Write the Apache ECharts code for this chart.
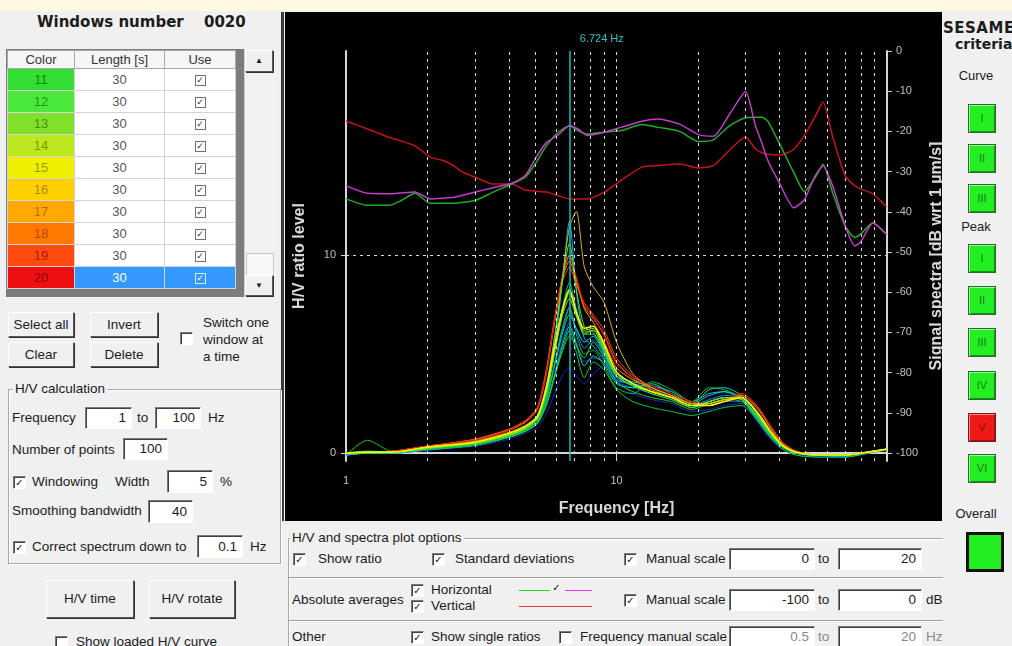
<!DOCTYPE html>
<html>
<head>
<meta charset="utf-8">
<script src="https://cdn.jsdelivr.net/npm/echarts@6/dist/echarts.min.js"></script>
<style>
  body { margin:0; width:1012px; height:646px; overflow:hidden; background:#f0f0f0; position:relative;
         font-family:"Liberation Sans", Arial, sans-serif; font-size:13.5px; color:#1c1c1c; }
  .t { position:absolute; line-height:16px; white-space:nowrap; }
  .btn { position:absolute; box-sizing:border-box; background:#f0f0f0; border:1px solid;
         border-color:#fff #5a5a5a #5a5a5a #fff; box-shadow:1px 1px 0 #303030; text-align:center; white-space:nowrap; }
  .inp { position:absolute; box-sizing:border-box; background:#fff; border:1px solid;
         border-color:#7a7a7a #fff #fff #7a7a7a; box-shadow:inset 1px 1px 0 #404040;
         text-align:right; padding-right:5px; white-space:nowrap; }
  .cb { position:absolute; box-sizing:border-box; width:13px; height:13px; background:#fff; border:1px solid;
        border-color:#7a7a7a #fff #fff #7a7a7a; box-shadow:inset 1px 1px 0 #404040;
        font-family:"DejaVu Sans"; font-size:10px; font-weight:bold; line-height:11px; text-align:center; color:#111; }
  .grp { position:absolute; border:1px solid #a8a8a8; box-shadow:1px 1px 0 #fff, inset 1px 1px 0 #fff; }
  .gt { position:absolute; background:#f0f0f0; padding:0 2px; line-height:16px; white-space:nowrap; }
  .sep { position:absolute; height:1px; background:#a0a0a0; border-bottom:1px solid #fff; }
  table.wt { position:absolute; left:7px; top:50px; width:229px; border-collapse:collapse; table-layout:fixed; font-size:13px; }
  .wt th { height:17px; padding:0; font-weight:normal; background:#f6f6f6; border:1px solid #a8a8a8; color:#333; }
  .wt td { height:21px; padding:0; text-align:center; border:1px solid #d4d4d4; background:#fff; color:#555; }
  .ucb { display:inline-block; box-sizing:border-box; width:11px; height:11px; border:1px solid #707070;
         font-family:"DejaVu Sans"; font-size:9px; line-height:9px; color:#333; vertical-align:middle; }
  .crit { position:absolute; left:968px; width:28px; height:29px; box-sizing:border-box; background:#22ee22;
          border:1px solid #2a6a2a; box-shadow:inset 1px 1px 0 #9f9, inset -1px -1px 0 #189018;
          text-align:center; line-height:27px; font-size:11px; color:#178017; }
  .lbl { position:absolute; width:72px; left:940px; text-align:center; line-height:16px; font-size:13px; }
</style>
</head>
<body>
<div style="position:absolute;left:0;top:0;width:1012px;height:11px;background:#fdf9e2"></div>

<!-- window list -->
<div class="t" style="left:37px;top:14px;font-family:'DejaVu Sans';font-weight:bold;font-size:15px">Windows number</div>
<div class="t" style="left:204px;top:14px;font-family:'DejaVu Sans';font-weight:bold;font-size:15px">0020</div>
<div style="position:absolute;left:6px;top:49px;width:238px;height:248px;background:#7c7c7c"></div>
<table class="wt" id="wtable">
  <tr><th style="width:66px">Color</th><th style="width:89px">Length [s]</th><th>Use</th></tr>
</table>
<div style="position:absolute;left:244px;top:49px;width:30px;height:248px;background:#f2f2f2;border-left:1px solid #d0d0d0"></div>
<div class="btn" style="left:245px;top:50px;width:28px;height:22px;font-size:8px;line-height:20px">▲</div>
<div style="position:absolute;left:246px;top:253px;width:26px;height:22px;border:1px solid #c8c8c8;background:#f7f7f7"></div>
<div class="btn" style="left:245px;top:275px;width:28px;height:21px;font-size:8px;line-height:19px">▼</div>
<div style="position:absolute;left:281px;top:12px;width:3px;height:509px;background:#3c3c3c"></div>

<div class="btn" style="left:8px;top:312px;width:66px;height:25px;line-height:23px">Select all</div>
<div class="btn" style="left:90px;top:312px;width:68px;height:25px;line-height:23px">Invert</div>
<div class="btn" style="left:8px;top:342px;width:66px;height:25px;line-height:23px">Clear</div>
<div class="btn" style="left:90px;top:342px;width:68px;height:25px;line-height:23px">Delete</div>
<div class="cb" style="left:180px;top:332px"></div>
<div class="t" style="left:203px;top:315px">Switch one</div>
<div class="t" style="left:203px;top:332px">window at</div>
<div class="t" style="left:203px;top:349px">a time</div>

<div class="grp" style="left:8px;top:389px;width:271px;height:173px"></div>
<div class="gt" style="left:13px;top:381px">H/V calculation</div>
<div class="t" style="left:12px;top:410px">Frequency</div>
<div class="inp" style="left:85px;top:407px;width:47px;height:22px;line-height:20px">1</div>
<div class="t" style="left:137px;top:410px">to</div>
<div class="inp" style="left:155px;top:407px;width:46px;height:22px;line-height:20px">100</div>
<div class="t" style="left:208px;top:410px">Hz</div>
<div class="t" style="left:12px;top:442px">Number of points</div>
<div class="inp" style="left:123px;top:438px;width:45px;height:22px;line-height:20px">100</div>
<div class="cb" style="left:13px;top:476px">✓</div>
<div class="t" style="left:32px;top:474px">Windowing</div>
<div class="t" style="left:115px;top:474px">Width</div>
<div class="inp" style="left:167px;top:470px;width:46px;height:23px;line-height:21px">5</div>
<div class="t" style="left:220px;top:474px">%</div>
<div class="t" style="left:12px;top:503px">Smoothing bandwidth</div>
<div class="inp" style="left:148px;top:500px;width:45px;height:23px;line-height:21px">40</div>
<div class="cb" style="left:13px;top:541px">✓</div>
<div class="t" style="left:32px;top:539px">Correct spectrum down to</div>
<div class="inp" style="left:197px;top:535px;width:46px;height:23px;line-height:21px">0.1</div>
<div class="t" style="left:250px;top:539px">Hz</div>

<div class="btn" style="left:46px;top:580px;width:88px;height:38px;line-height:36px">H/V time</div>
<div class="btn" style="left:149px;top:580px;width:86px;height:38px;line-height:36px">H/V rotate</div>
<div class="cb" style="left:55px;top:636px"></div>
<div class="t" style="left:76px;top:634px">Show loaded H/V curve</div>

<!-- plot options -->
<div class="grp" style="left:288px;top:538px;width:700px;height:130px"></div>
<div class="gt" style="left:290px;top:530px">H/V and spectra plot options</div>
<div class="cb" style="left:293px;top:553px">✓</div>
<div class="t" style="left:318px;top:551px">Show ratio</div>
<div class="cb" style="left:432px;top:553px">✓</div>
<div class="t" style="left:455px;top:551px">Standard deviations</div>
<div class="cb" style="left:624px;top:553px">✓</div>
<div class="t" style="left:646px;top:551px">Manual scale</div>
<div class="inp" style="left:729px;top:548px;width:86px;height:22px;line-height:20px">0</div>
<div class="t" style="left:818px;top:551px">to</div>
<div class="inp" style="left:838px;top:548px;width:84px;height:22px;line-height:20px">20</div>
<div class="sep" style="left:289px;top:577px;width:660px"></div>

<div class="t" style="left:292px;top:592px">Absolute averages</div>
<div class="cb" style="left:411px;top:584px">✓</div>
<div class="t" style="left:431px;top:582px">Horizontal</div>
<div class="cb" style="left:411px;top:600px">✓</div>
<div class="t" style="left:431px;top:598px">Vertical</div>
<div style="position:absolute;left:519px;top:590px;width:31px;height:1px;background:#22dd22"></div>
<div class="cb" style="left:550px;top:582px;border:none;box-shadow:none;background:transparent">✓</div>
<div style="position:absolute;left:565px;top:590px;width:27px;height:1px;background:#ee33ee"></div>
<div style="position:absolute;left:519px;top:606px;width:73px;height:1px;background:#ee3333"></div>
<div class="cb" style="left:624px;top:594px">✓</div>
<div class="t" style="left:646px;top:592px">Manual scale</div>
<div class="inp" style="left:729px;top:589px;width:86px;height:22px;line-height:20px">-100</div>
<div class="t" style="left:818px;top:592px">to</div>
<div class="inp" style="left:838px;top:589px;width:84px;height:22px;line-height:20px">0</div>
<div class="t" style="left:926px;top:592px">dB</div>
<div class="sep" style="left:289px;top:620px;width:660px"></div>

<div class="t" style="left:292px;top:629px">Other</div>
<div class="cb" style="left:411px;top:631px">✓</div>
<div class="t" style="left:431px;top:629px">Show single ratios</div>
<div class="cb" style="left:559px;top:631px"></div>
<div class="t" style="left:580px;top:629px">Frequency manual scale</div>
<div class="inp" style="left:729px;top:626px;width:86px;height:22px;line-height:20px;color:#8a8a8a">0.5</div>
<div class="t" style="left:818px;top:629px;color:#8a8a8a">to</div>
<div class="inp" style="left:838px;top:626px;width:84px;height:22px;line-height:20px;color:#8a8a8a">20</div>
<div class="t" style="left:926px;top:629px;color:#8a8a8a">Hz</div>

<!-- SESAME criteria -->
<div style="position:absolute;left:943px;top:12px;width:69px;height:634px;background:#f0f0f0"></div>
<div class="t" style="left:943px;top:20px;font-family:'DejaVu Sans';font-weight:bold;font-size:15px;letter-spacing:0.5px">SESAME</div>
<div class="t" style="left:955px;top:36px;font-family:'DejaVu Sans';font-weight:bold;font-size:14px">criteria</div>
<div class="lbl" style="top:68px">Curve</div>
<div class="crit" style="top:104px">I</div>
<div class="crit" style="top:144px">II</div>
<div class="crit" style="top:184px">III</div>
<div class="lbl" style="top:219px">Peak</div>
<div class="crit" style="top:244px">I</div>
<div class="crit" style="top:286px">II</div>
<div class="crit" style="top:328px">III</div>
<div class="crit" style="top:371px">IV</div>
<div class="crit" style="top:413px;background:#ee1a1a;border-color:#7a1a1a;box-shadow:inset 1px 1px 0 #f88, inset -1px -1px 0 #a01010;color:#8a0c0c">V</div>
<div class="crit" style="top:454px">VI</div>
<div class="lbl" style="top:506px">Overall</div>
<div style="position:absolute;left:966px;top:532px;width:38px;height:40px;box-sizing:border-box;background:#22ee22;border:3px solid #111"></div>

<div id="chart" style="position:absolute;left:285px;top:12px;width:657px;height:509px;background:#000"></div>

<script>
// window list
const windowIds = [11, 12, 13, 14, 15, 16, 17, 18, 19, 20];
const windowLengths = [30, 30, 30, 30, 30, 30, 30, 30, 30, 30];

// H/V ratio of each window, sampled at hvFreq (Hz)
const hvFreq = [1, 1.2, 1.5, 2, 3, 4, 4.6, 5.1, 5.5, 5.9, 6.3, 6.7, 7.1, 7.6, 8.2, 9, 10, 11.5, 13.5, 16, 19, 22, 25, 29, 33, 37, 41, 46, 55, 70, 85, 100];
const hv01 = [-0.1, 0.0, 0.0, 0.15, 0.35, 0.7, 1.0, 1.3, 2.0, 3.0, 3.9, 4.3, 3.9, 3.5, 4.0, 4.4, 3.7, 3.0, 2.7, 2.5, 2.1, 2.2, 2.4, 2.5, 1.6, 0.7, 0.2, -0.1, -0.2, -0.2, 0.0, 0.15];
const hv02 = [-0.1, 0.0, 0.05, 0.2, 0.4, 0.8, 1.1, 1.5, 2.5, 4.0, 5.6, 6.6, 5.6, 4.6, 4.8, 4.6, 3.6, 3.3, 3.0, 2.7, 2.3, 2.5, 2.6, 2.6, 1.7, 0.8, 0.3, 0.0, -0.2, -0.2, 0.0, 0.2];
const hv03 = [0.0, 0.05, 0.05, 0.2, 0.45, 0.85, 1.2, 1.6, 2.7, 4.5, 6.3, 7.4, 6.2, 5.3, 5.7, 4.9, 3.8, 3.4, 3.2, 2.8, 2.4, 2.7, 2.9, 2.8, 1.8, 0.9, 0.3, 0.0, -0.1, -0.1, 0.05, 0.2];
const hv04 = [-0.1, 0.0, 0.0, 0.15, 0.4, 0.8, 1.1, 1.5, 2.8, 5.2, 8.6, 11.7, 8.2, 5.8, 5.4, 4.7, 3.7, 3.5, 3.3, 2.9, 2.5, 2.9, 3.1, 2.7, 1.7, 0.8, 0.3, 0.0, -0.1, -0.2, 0.0, 0.2];
const hv05 = [0.0, 0.0, 0.05, 0.25, 0.45, 0.85, 1.2, 1.6, 2.7, 4.4, 6.0, 7.0, 6.3, 5.6, 5.9, 5.0, 3.9, 3.6, 3.4, 3.1, 2.6, 3.0, 3.1, 2.8, 1.8, 0.9, 0.3, 0.0, -0.1, -0.1, 0.05, 0.2];
const hv06 = [-0.1, 0.0, 0.0, 0.2, 0.4, 0.8, 1.1, 1.5, 2.4, 3.9, 5.4, 6.4, 5.5, 4.4, 4.9, 4.5, 3.5, 3.3, 3.5, 3.0, 2.5, 3.2, 3.3, 2.9, 1.8, 0.9, 0.3, 0.0, -0.1, -0.1, 0.05, 0.2];
const hv07 = [0.0, 0.05, 0.05, 0.25, 0.5, 0.9, 1.25, 1.7, 3.0, 5.2, 7.3, 8.6, 7.3, 6.0, 6.0, 5.1, 3.9, 3.4, 3.1, 2.8, 2.3, 2.6, 2.8, 2.7, 1.9, 1.0, 0.35, 0.0, -0.1, -0.1, 0.05, 0.2];
const hv08 = [0.0, 0.1, 0.05, 0.2, 0.4, 0.8, 1.1, 1.5, 2.4, 3.8, 5.2, 6.2, 5.1, 3.8, 4.6, 4.2, 3.2, 2.6, 2.3, 2.1, 1.9, 2.1, 2.3, 2.4, 1.7, 0.8, 0.2, -0.1, -0.2, -0.2, 0.0, 0.15];
const hv09 = [-0.1, 0.65, 0.05, 0.2, 0.4, 0.85, 1.15, 1.6, 2.7, 4.5, 6.2, 7.3, 6.0, 5.0, 5.2, 4.4, 3.3, 3.0, 3.6, 3.2, 2.6, 3.3, 3.2, 2.8, 1.9, 0.9, 0.3, 0.0, -0.1, -0.1, 0.05, 0.2];
const hv10 = [0.0, 0.05, 0.05, 0.2, 0.45, 0.8, 1.1, 1.5, 2.5, 3.9, 5.1, 5.9, 5.4, 4.8, 5.6, 4.8, 3.6, 3.1, 2.8, 2.6, 2.2, 2.5, 2.7, 2.6, 1.8, 0.9, 0.3, 0.0, -0.1, -0.1, 0.05, 0.2];
const hv11 = [0.0, 0.0, 0.05, 0.25, 0.5, 0.9, 1.2, 1.7, 3.0, 5.0, 7.0, 8.1, 7.0, 6.0, 6.2, 5.2, 3.9, 3.4, 3.1, 2.8, 2.4, 2.6, 2.8, 2.7, 1.9, 1.0, 0.35, 0.0, -0.1, -0.1, 0.05, 0.2];
const hv12 = [0.0, 0.05, 0.05, 0.25, 0.5, 0.9, 1.25, 1.75, 3.2, 5.8, 8.6, 10.6, 8.3, 6.4, 6.1, 5.2, 3.9, 3.4, 3.0, 2.7, 2.3, 2.6, 2.8, 2.7, 1.9, 1.0, 0.35, 0.0, -0.1, -0.1, 0.05, 0.2];
const hv13 = [0.0, 0.05, 0.05, 0.25, 0.5, 0.9, 1.25, 1.75, 3.1, 5.1, 6.9, 7.8, 6.9, 6.1, 6.2, 5.3, 4.0, 3.5, 3.1, 2.8, 2.4, 2.6, 2.8, 2.8, 2.0, 1.0, 0.4, 0.05, -0.1, -0.1, 0.05, 0.2];
const hv14 = [0.0, 0.05, 0.05, 0.3, 0.55, 0.95, 1.3, 1.8, 3.2, 5.3, 7.2, 8.3, 7.2, 6.2, 6.3, 5.4, 4.1, 3.5, 3.1, 2.8, 2.4, 2.5, 2.7, 2.8, 2.0, 1.1, 0.4, 0.05, -0.1, -0.1, 0.05, 0.2];
const hv15 = [0.0, 0.05, 0.05, 0.3, 0.55, 1.0, 1.35, 1.85, 3.3, 5.4, 7.2, 8.2, 7.1, 6.3, 6.4, 5.5, 4.1, 3.5, 3.1, 2.8, 2.4, 2.4, 2.6, 2.8, 2.1, 1.1, 0.4, 0.05, -0.1, -0.1, 0.05, 0.2];
const hv16 = [0.0, 0.05, 0.05, 0.3, 0.6, 1.05, 1.4, 1.9, 3.4, 5.8, 8.8, 11.4, 12.2, 9.4, 8.4, 7.6, 5.6, 4.0, 3.3, 2.9, 2.5, 2.5, 2.7, 2.8, 2.1, 1.2, 0.45, 0.05, -0.1, -0.1, 0.05, 0.2];
const hv17 = [0.0, 0.05, 0.1, 0.35, 0.65, 1.15, 1.55, 2.2, 4.0, 6.6, 8.8, 10.0, 8.8, 7.3, 6.6, 5.6, 4.3, 3.7, 3.3, 2.9, 2.5, 2.4, 2.6, 2.9, 2.3, 1.3, 0.5, 0.1, -0.1, -0.1, 0.05, 0.2];
const hv18 = [0.0, 0.05, 0.1, 0.35, 0.7, 1.2, 1.6, 2.3, 4.2, 6.8, 8.8, 9.7, 8.6, 7.4, 6.8, 6.0, 4.6, 3.8, 3.2, 2.8, 2.5, 2.4, 2.6, 2.9, 2.3, 1.4, 0.55, 0.1, -0.1, -0.1, 0.05, 0.2];
const hv19 = [0.0, 0.05, 0.1, 0.35, 0.7, 1.2, 1.65, 2.3, 4.1, 6.6, 8.6, 9.4, 8.5, 7.6, 7.0, 6.2, 4.8, 3.9, 3.3, 2.9, 2.5, 2.4, 2.6, 3.0, 2.4, 1.4, 0.55, 0.1, -0.1, -0.1, 0.05, 0.2];
const hv20 = [0.0, 0.05, 0.1, 0.35, 0.65, 1.15, 1.6, 2.25, 4.0, 6.7, 8.9, 9.9, 8.9, 7.5, 6.9, 5.9, 4.5, 3.8, 3.4, 3.0, 2.6, 2.5, 2.7, 3.0, 2.4, 1.4, 0.5, 0.1, -0.1, -0.1, 0.05, 0.2];

// averaged amplitude spectra (dB), sampled at specFreq (Hz)
const specFreq = [1, 1.2, 1.45, 1.6, 1.8, 2.05, 2.3, 2.5, 2.65, 3, 3.5, 4.1, 4.6, 5.05, 5.5, 6.1, 6.7, 7.2, 7.8, 9, 10.4, 12.4, 14.3, 17.1, 20.1, 22.8, 26.3, 30, 32.6, 34.5, 36.3, 40, 45.2, 49.5, 54.2, 58, 63, 70, 76, 80, 88.6, 99.6];
const specHorizA = [-33.5, -35.4, -35.5, -35.3, -35.1, -36.8, -36.6, -36.4, -36.0, -35.1, -34.0, -32.9, -31.0, -26.4, -22.8, -20.8, -18.6, -19.4, -21.0, -20.2, -19.0, -17.5, -16.9, -18.2, -20.8, -21.2, -15.5, -10.1, -18.5, -23.0, -27.3, -32.8, -39.0, -37.0, -31.1, -28.6, -33.6, -43.5, -48.5, -47.5, -42.8, -45.6];
const specHorizB = [-36.8, -38.4, -38.4, -37.2, -35.4, -37.9, -37.9, -37.9, -37.7, -37.2, -35.1, -33.1, -31.4, -27.7, -23.6, -20.2, -18.6, -19.8, -20.7, -20.2, -19.8, -18.3, -19.0, -20.0, -22.5, -22.1, -18.5, -16.6, -16.5, -16.5, -17.5, -23.0, -30.2, -35.0, -31.5, -28.2, -35.3, -43.5, -46.4, -45.5, -42.8, -45.6];
const specVert = [-17.4, -19.4, -21.5, -22.4, -23.6, -26.4, -27.3, -28.5, -29.8, -31.4, -33.1, -33.1, -34.6, -34.9, -35.1, -36.0, -36.8, -36.8, -36.8, -35.1, -32.2, -28.9, -28.5, -28.1, -29.1, -28.5, -24.5, -21.4, -24.3, -25.3, -25.7, -25.9, -24.5, -21.0, -16.4, -12.7, -21.4, -31.0, -33.5, -34.3, -35.5, -38.8];

// axes
const hvTicks = [0, 10];
const dbTicks = [0, -10, -20, -30, -40, -50, -60, -70, -80, -90, -100];
const gridFreqs = [2, 3, 4, 5, 6, 7, 8, 9, 10, 20, 30, 40, 50, 60, 70, 80, 90];
const peakFreq = 6.724;

// colours (style only)
const cellColors = ['#33dd33', '#4ae83a', '#80e02a', '#bce820', '#eef000', '#ffd000', '#ffa800', '#ff7800', '#ff4a10', '#ee1010'];
const cellText = ['#138813', '#1f951f', '#4c9010', '#7a9a00', '#9a9a00', '#b08800', '#b86a00', '#b84800', '#a82000', '#8a0000'];
const lineColors = ['#1828c8', '#0050f0', '#0088ff', '#00b8ff', '#00dce8', '#00e0b0', '#00d880', '#00c850', '#10c030', '#22cc22',
                    '#33dd33', '#4ae83a', '#80e02a', '#bce820', '#f0f000', '#d8b000', '#ffa000', '#ff7000', '#ff4010', '#ee1010'];

const tbl = document.getElementById('wtable');
windowIds.forEach((id, i) => {
  const tr = document.createElement('tr');
  const sel = i === windowIds.length - 1;
  const bg = sel ? 'background:#3399ff;color:#fff;' : '';
  tr.innerHTML = '<td style="background:' + cellColors[i] + ';color:' + cellText[i] + '">' + id + '</td>' +
    '<td style="' + bg + '">' + windowLengths[i] + '</td>' +
    '<td style="' + bg + '"><span class="ucb" style="' + (sel ? 'border-color:#d8e8ff;color:#fff' : '') + '">✓</span></td>';
  tbl.appendChild(tr);
});

const chart = echarts.init(document.getElementById('chart'));
const hvWindows = [hv01, hv02, hv03, hv04, hv05, hv06, hv07, hv08, hv09, hv10, hv11, hv12, hv13, hv14, hv15, hv16, hv17, hv18, hv19, hv20];
const drawOrder = [0, 1, 2, 3, 4, 5, 6, 7, 8, 9, 16, 17, 18, 19, 15, 10, 11, 12, 13, 14];

const dashed = { color: '#d8d8d8', type: [3, 4], width: 1 };
const series = [];
drawOrder.forEach((k, n) => {
  const s = {
    name: 'Window ' + (k + 1),
    type: 'line',
    yAxisIndex: 0,
    data: hvFreq.map((f, j) => [f, hvWindows[k][j]]),
    showSymbol: false,
    smooth: 0.25,
    lineStyle: { color: lineColors[k], width: k === 14 ? 1.6 : 1 },
    z: 3
  };
  if (n === 0) {
    s.markLine = {
      silent: true,
      symbol: ['none', 'none'],
      label: { show: false },
      lineStyle: dashed,
      data: gridFreqs.map(f => ({ xAxis: f })).concat([
        { yAxis: 10 },
        { xAxis: peakFreq,
          lineStyle: { color: '#19b8b8', type: 'solid', width: 1.5 },
          label: { show: true, position: 'end', formatter: peakFreq + ' Hz', color: '#22c8c8',
                   fontSize: 11, fontFamily: 'Liberation Sans', offset: [32, -2] } }
      ])
    };
  }
  series.push(s);
});

const spec = (name, vals, color) => ({
  name: name,
  type: 'line',
  yAxisIndex: 1,
  data: specFreq.map((f, j) => [f, vals[j]]),
  showSymbol: false,
  smooth: 0.2,
  lineStyle: { color: color, width: 1.5 },
  z: 2
});
series.push(spec('Vertical', specVert, '#c41414'));
series.push(spec('Horizontal 1', specHorizB, '#1fae1f'));
series.push(spec('Horizontal 2', specHorizA, '#c43cc8'));

const axisCol = '#d6d6d6';
const labelCol = '#c0c0c0';

chart.setOption({
  backgroundColor: '#000',
  animation: false,
  textStyle: { fontFamily: 'Liberation Sans' },
  grid: { left: 61, right: 55, top: 39, bottom: 60, containLabel: false, outerBoundsMode: 'none' },
  xAxis: {
    type: 'log',
    logBase: 10,
    min: 1,
    max: 100,
    name: 'Frequency [Hz]',
    nameLocation: 'middle',
    nameGap: 40,
    nameTextStyle: { color: '#d8d8d8', fontSize: 16, fontWeight: 'bold' },
    axisLine: { lineStyle: { color: axisCol, width: 2 } },
    axisTick: { show: true, length: 6, lineStyle: { color: axisCol } },
    axisLabel: { color: labelCol, fontSize: 11, margin: 14, formatter: v => (v >= 100 ? '' : String(v)) },
    splitLine: { show: false },
    minorTick: { show: false }
  },
  yAxis: [
    {
      type: 'value',
      position: 'left',
      min: -0.4,
      max: 20.3,
      name: 'H/V ratio level',
      nameLocation: 'middle',
      nameRotate: 90,
      nameGap: 38,
      nameTextStyle: { color: '#d8d8d8', fontSize: 16, fontWeight: 'bold' },
      axisLine: { show: true, lineStyle: { color: axisCol, width: 2 } },
      axisTick: { show: true, length: 5, customValues: hvTicks, lineStyle: { color: axisCol } },
      axisLabel: { color: labelCol, fontSize: 11, margin: 10, customValues: hvTicks },
      splitLine: { show: false }
    },
    {
      type: 'value',
      position: 'right',
      min: -102,
      max: 0,
      name: 'Signal spectra [dB wrt 1 µm/s]',
      nameLocation: 'middle',
      nameRotate: 90,
      nameGap: 36,
      nameTextStyle: { color: '#d8d8d8', fontSize: 16, fontWeight: 'bold' },
      axisLine: { show: true, lineStyle: { color: axisCol, width: 2 } },
      axisTick: { show: true, length: 5, customValues: dbTicks, lineStyle: { color: axisCol } },
      axisLabel: { color: labelCol, fontSize: 11, margin: 9, customValues: dbTicks },
      splitLine: { show: false }
    }
  ],
  series: series
});
</script>
</body>
</html>
